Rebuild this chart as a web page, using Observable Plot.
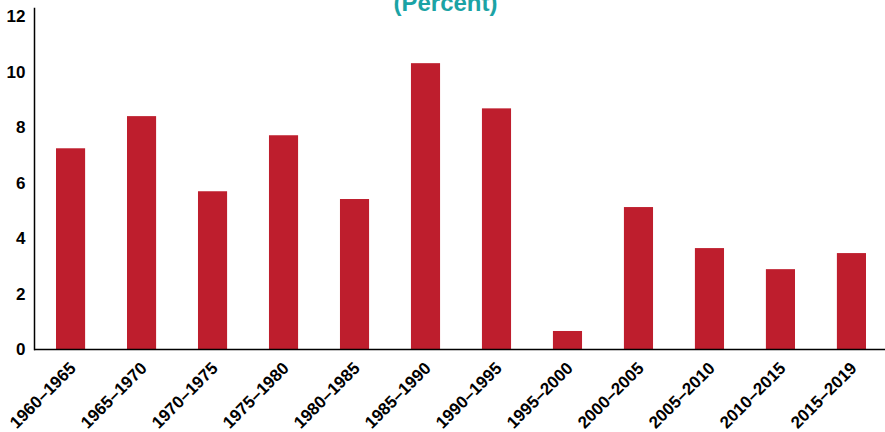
<!DOCTYPE html>
<html>
<head>
<meta charset="utf-8">
<script src="https://cdn.jsdelivr.net/npm/d3@7"></script>
<script src="https://cdn.jsdelivr.net/npm/@observablehq/plot@0.6"></script>
<style>
  html, body { margin: 0; padding: 0; background: #fff; }
  #chart { width: 885px; height: 432px; overflow: hidden; }
</style>
</head>
<body>
<div id="chart"></div>
<script>
const titleText = "(Percent)";
const periods = ["1960–1965","1965–1970","1970–1975","1975–1980","1980–1985","1985–1990","1990–1995","1995–2000","2000–2005","2005–2010","2010–2015","2015–2019"];
const values = [7.24, 8.40, 5.69, 7.71, 5.41, 10.31, 8.68, 0.65, 5.12, 3.64, 2.88, 3.46];
const yTicks = [0, 2, 4, 6, 8, 10, 12];

const data = periods.map((p, i) => ({period: p, value: values[i]}));
const font = "'Liberation Sans', Arial, sans-serif";

const chart = Plot.plot({
  width: 885,
  height: 432,
  marginLeft: 34,
  marginRight: -3,
  marginTop: 8,
  marginBottom: 83,
  style: {fontFamily: font, background: "#fff", overflow: "hidden"},
  x: {domain: periods, paddingInner: 0.59, paddingOuter: 0.31, round: false, label: null},
  y: {domain: [0, 12.3], label: null},
  marks: [
    Plot.barY(data, {x: "period", y: "value", fill: "#BE1E2D"}),
    Plot.frame({anchor: "left", stroke: "#000", strokeWidth: 1.5}),
    Plot.ruleY([0], {stroke: "#000", strokeWidth: 1.5}),
    Plot.axisY({ticks: yTicks, tickSize: 0, tickPadding: 9, fontSize: 17, fontWeight: "bold", fill: "#000", label: null}),
    Plot.axisX({tickSize: 0, tickRotate: -45, tickPadding: 6, fontSize: 17, fontWeight: "bold", fill: "#000", label: null, dx: 2, dy: 10}),
    Plot.text([titleText], {frameAnchor: "top", text: d => d, dx: -16, dy: 2, lineAnchor: "bottom", fontSize: 24, fontWeight: "bold", fill: "#1BA3A5"})
  ]
});
document.getElementById("chart").appendChild(chart);
</script>
</body>
</html>
